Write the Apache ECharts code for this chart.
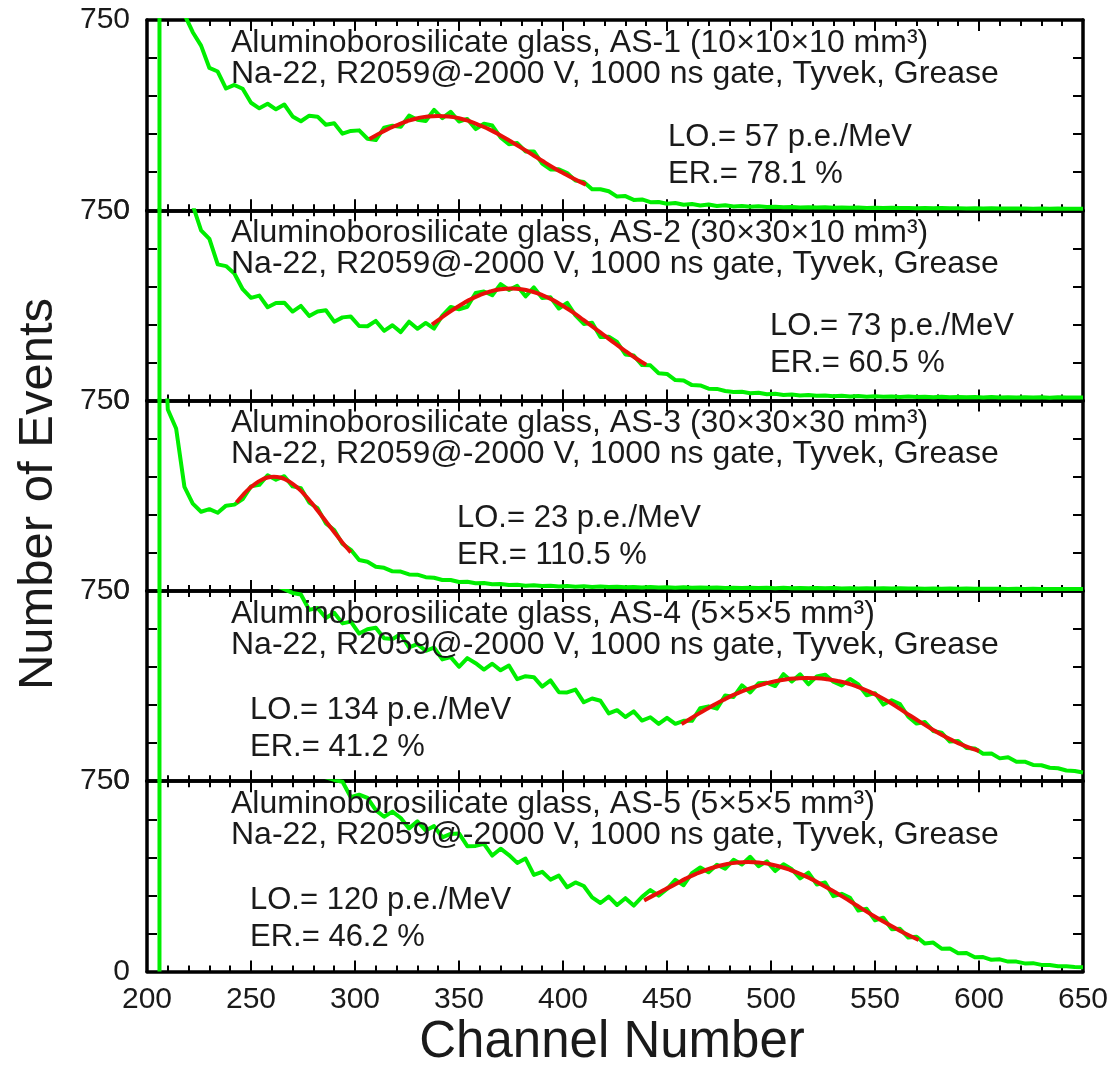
<!DOCTYPE html>
<html>
<head>
<meta charset="utf-8">
<script src="https://cdn.jsdelivr.net/npm/echarts@6/dist/echarts.min.js"></script>
<style>
html, body { margin: 0; padding: 0; background: #fff; }
#chart { width: 1114px; height: 1070px; }
</style>
</head>
<body>
<div id="chart"></div>
<script>
// Na-22 spectra, five aluminoborosilicate glass samples (one panel each)
const channelStart = 206;   // threshold edge, first bin
const channelStep = 4;

const sampleNames = ['AS-1 (10×10×10 mm³)', 'AS-2 (30×30×10 mm³)', 'AS-3 (30×30×30 mm³)', 'AS-4 (5×5×5 mm³)', 'AS-5 (5×5×5 mm³)'];
const setupText = 'Na-22, R2059@-2000 V, 1000 ns gate, Tyvek, Grease';
const lightOutput = ['57', '73', '23', '134', '120'];
const energyRes = ['78.1', '60.5', '110.5', '41.2', '46.2'];

// counts per bin, bins at channelStart + k*channelStep
const counts1 = [1600,1150,900,772,702, 649,561,547,480,494, 479,424,402,420,398, 417,370,351,373,369,
  337,343,302,313,315, 282,277,326,333,329, 373,357,352,396,363, 388,350,360,320,341,
  334,287,260,265,232, 232,184,161,162,147, 117,112,83,83,75, 54,56,41,43,32,
  33,26,29,22,25,19,23,17,20,15, 17,14,16,13,14,12,13,11,12,11,
  12,10,11,10,11,9,10,9,10,9, 9,8,9,8,9,8,8,7,8,7, 8,7,7,7,7,6,7,6,7,6, 6,6];
const counts2 = [1600,1300,1050,900,770, 671,637,537,530,501, 439,405,414,368,385, 386,351,373,333,351,
  356,311,328,331,294, 293,314,275,297,270, 311,283,306,284,335, 369,360,370,424,430,
  415,459,436,452,411, 446,404,407,363,385, 336,302,307,251,252, 231,182,178,140,139,
  108,105,81,79,61, 60,47,46,38,34, 35,29,31,25,27,22,24,20,22,19,
  20,17,19,16,18,15,17,15,16,14, 16,14,15,13,15,13,14,13,14,12, 14,12,13,12,13,12,13,11,13,12, 12,12];
const counts3 = [1400,715,640,410,344, 312,322,308,336,340, 362,412,418,456,438, 452,412,405,348,326,
  266,240,185,162,122, 115,95,91,77,76, 65,64,54,52,43,43,35,36,30,31,
  26,27,23,24,20,22,19,20,17,19, 16,18,15,17,15,16,14,15,13,15,
  13,14,12,14,12,13,12,13,11,12, 11,12,11,12,10,12,10,11,10,11,
  10,11,9,10,9,10,9,10,9,10, 9,9,8,9,8,9,8,9,8,8, 8,8,7,8,7,8,7,7,7,7, 7,7];
const counts4 = [1600,1300,1200,1100,1050, 1000,960,920,890,860, 835,815,798,781,770, 757,742,736,675,683,
  643,664,622,629,582, 599,605,563,560,580, 527,540,514,526,480, 489,451,485,465,440,
  463,437,456,402,414, 410,373,397,351,350, 361,311,326,317,267, 280,253,275,239,252,
  226,250,226,238,238, 288,295,286,338,332, 378,350,386,388,375, 422,393,421,382,413,
  420,392,377,403,381, 339,347,302,319,304, 254,227,233,198,191, 156,158,131,129,108,
  109,90,94,77,77, 64,63,53,51,42, 40,34];
const counts5 = [1600,1400,1300,1200,1150, 1100,1060,1020,990,960, 930,905,880,860,840, 825,810,798,786,775,
  765,755,748,687,697, 684,636,610,630,605, 564,592,556,573,529, 542,544,494,495,503,
  457,484,459,428,445, 381,393,362,378,332, 351,337,292,270,295, 262,289,260,294,321,
  299,325,361,340,388, 410,391,421,405,440, 422,452,415,434,396, 423,403,367,390,343,
  351,297,306,290,240, 247,202,212,167,168, 134,137,110,114,90, 91,72,73,56,57,
  46,48,39,39,32, 33,26,26,21,21, 18,17];

// fitted photopeaks
const fitChan1 = [307,310,315,320,325,330,335,340,345,350,355,360,365,370,375,380,385,390,395,400,405,410,411];
const fit1 = [281,295,317,335,351,363,370,372,370,363,351,335,317,295,271,246,221,195,170,147,125,105,101];
const fitChan2 = [337,340,345,350,355,360,365,370,375,380,385,390,395,400,405,410,415,420,425,430,435,440];
const fit2 = [299,317,347,373,397,416,430,439,442,439,430,416,397,373,347,317,287,256,225,195,167,141];
const fitChan3 = [243,246,249,252,255,258,261,264,267,270,273,276,279,282,285,288,291,294,297,298];
const fit3 = [348,377,402,422,437,447,450,447,437,422,402,377,348,317,285,253,221,190,161,152];
const fitChan4 = [457,462,467,472,477,482,487,492,497,502,507,512,517,522,527,532,537,542,547,552,557,562,567,572,577,582,587,592,597,600];
const fit4 = [225,250,275,298,320,340,357,372,384,394,401,405,407,406,402,395,385,371,354,334,311,285,258,232,207,183,162,143,127,119];
const fitChan5 = [439,444,449,454,459,464,469,474,479,484,489,494,499,504,509,514,519,524,529,534,539,544,549,554,559,564,569,571];
const fit5 = [280,302,323,344,366,385,401,414,424,430,432,430,424,414,401,385,366,344,321,297,272,246,221,197,174,152,132,124];

const countsList = [counts1, counts2, counts3, counts4, counts5];
const fitChanList = [fitChan1, fitChan2, fitChan3, fitChan4, fitChan5];
const fitList = [fit1, fit2, fit3, fit4, fit5];

// layout
const gridLeft = 147, gridRight = 31, gridTop = 20, panelH = 190.3;
const loPos = [[668, 117], [770, 116], [457, 118], [250, 120], [250, 119]];
const font = '"Liberation Sans", Arial, sans-serif';
const ink = '#1a1a1a';

const axisLine = { show: true, onZero: false, lineStyle: { color: '#000', width: 3.5 } };
const tickStyle = { color: '#000', width: 2 };

function xAx(i, pos) {
  return {
    type: 'value', gridIndex: i, position: pos, min: 200, max: 650, interval: 50,
    axisLine: axisLine,
    axisTick: { show: true, inside: true, length: 11, lineStyle: tickStyle },
    minorTick: { show: true, splitNumber: 5, length: 6, lineStyle: tickStyle },
    axisLabel: {
      show: pos === 'bottom' && i === 4, fontSize: 30, color: ink, fontFamily: font,
      margin: 13, showMinLabel: true, showMaxLabel: true
    },
    splitLine: { show: false }, minorSplitLine: { show: false }
  };
}

function yAx(i, pos) {
  return {
    type: 'value', gridIndex: i, position: pos, min: 0, max: 750, interval: 750,
    axisLine: axisLine,
    axisTick: { show: true, inside: true, length: 11, lineStyle: tickStyle },
    minorTick: { show: true, splitNumber: 5, length: 10, lineStyle: tickStyle },
    axisLabel: {
      show: pos === 'left', fontSize: 30, color: ink, fontFamily: font,
      margin: 17, showMinLabel: true, showMaxLabel: true
    },
    splitLine: { show: false }, minorSplitLine: { show: false }
  };
}

const grids = [], xAxes = [], yAxes = [], series = [], graphics = [];

for (let i = 0; i < 5; i++) {
  const top = gridTop + i * panelH;
  grids.push({ left: gridLeft, right: gridRight, top: top, height: panelH, containLabel: false });
  xAxes.push(xAx(i, 'bottom'), xAx(i, 'top'));
  yAxes.push(yAx(i, 'left'), yAx(i, 'right'));

  const pts = [[channelStart, 0]].concat(countsList[i].map((v, k) => [channelStart + k * channelStep, v]));
  series.push({
    type: 'line', xAxisIndex: 2 * i, yAxisIndex: 2 * i, data: pts,
    showSymbol: false, symbol: 'none', clip: true, z: 2,
    lineStyle: { color: '#00ee00', width: 4, join: 'round' }
  });
  series.push({
    type: 'line', xAxisIndex: 2 * i, yAxisIndex: 2 * i,
    data: fitChanList[i].map((c, k) => [c, fitList[i][k]]),
    showSymbol: false, symbol: 'none', smooth: true, clip: true, z: 3,
    lineStyle: { color: '#e8100a', width: 4 }
  });

  graphics.push({
    type: 'text', x: 231, y: top + 23, z: 100,
    style: { text: 'Aluminoborosilicate glass, ' + sampleNames[i], font: '32px ' + font, fill: ink, textVerticalAlign: 'middle' }
  });
  graphics.push({
    type: 'text', x: 231, y: top + 54, z: 100,
    style: { text: setupText, font: '32px ' + font, fill: ink, textVerticalAlign: 'middle' }
  });
  graphics.push({
    type: 'text', x: loPos[i][0], y: top + loPos[i][1], z: 100,
    style: { text: 'LO.= ' + lightOutput[i] + ' p.e./MeV', font: '31px ' + font, fill: ink, textVerticalAlign: 'middle' }
  });
  graphics.push({
    type: 'text', x: loPos[i][0], y: top + loPos[i][1] + 37, z: 100,
    style: { text: 'ER.= ' + energyRes[i] + ' %', font: '31px ' + font, fill: ink, textVerticalAlign: 'middle' }
  });
}

// axis titles
graphics.push({
  type: 'text', x: 38, y: 494, rotation: Math.PI / 2, z: 100,
  style: { text: 'Number of Events', font: '49px ' + font, fill: ink, textAlign: 'center', textVerticalAlign: 'middle' }
});
graphics.push({
  type: 'text', x: 612, y: 1043, z: 100,
  style: { text: 'Channel Number', font: '51px ' + font, fill: ink, textAlign: 'center', textVerticalAlign: 'middle' }
});

const chart = echarts.init(document.getElementById('chart'), null, { renderer: 'canvas' });
chart.setOption({
  animation: false,
  backgroundColor: '#fff',
  grid: grids,
  xAxis: xAxes,
  yAxis: yAxes,
  series: series,
  graphic: graphics
});
</script>
</body>
</html>
